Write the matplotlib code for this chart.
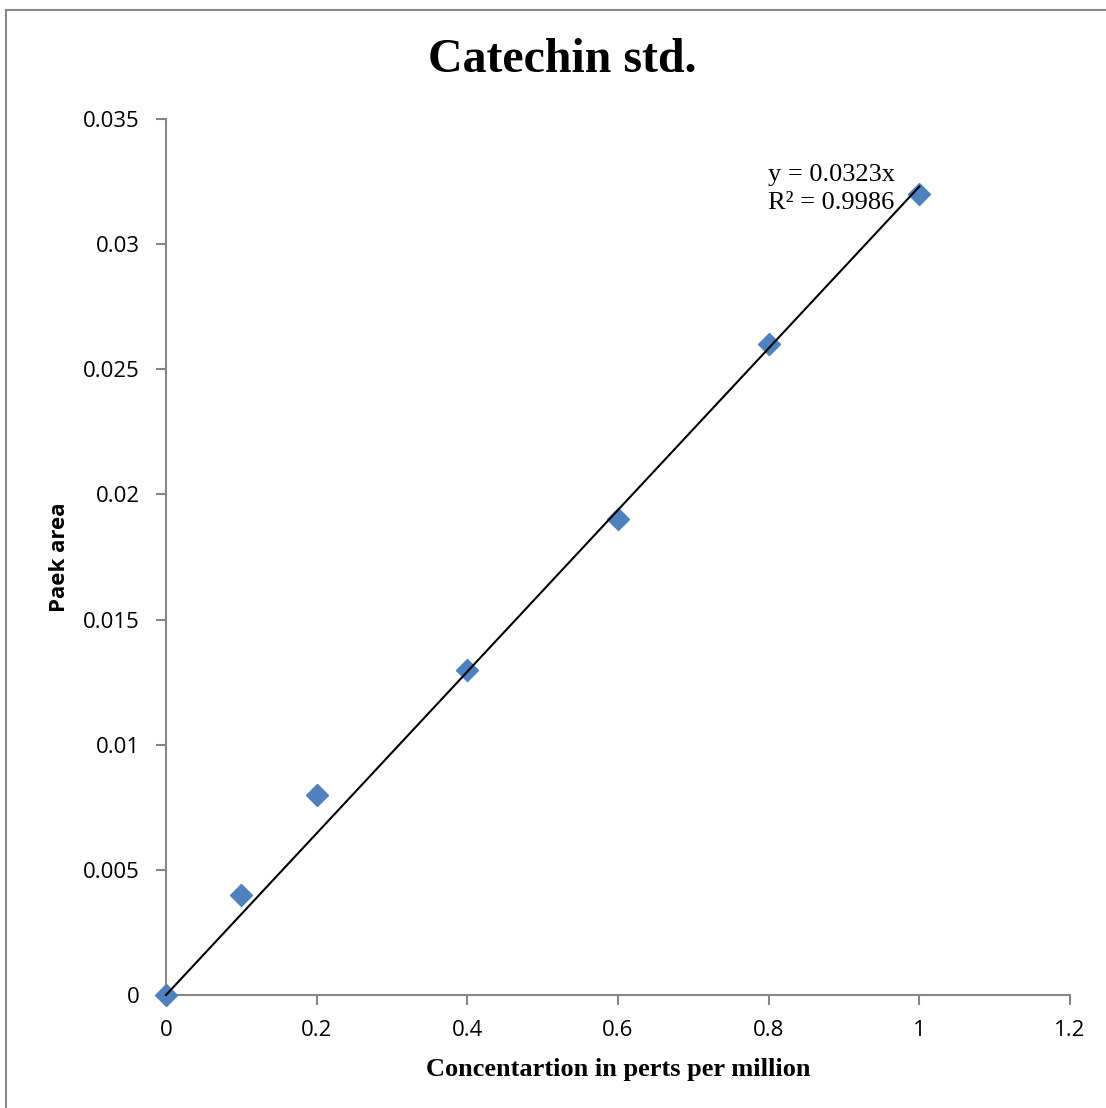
import matplotlib
matplotlib.use("Agg")
import matplotlib.pyplot as plt
import numpy as np
from matplotlib.patches import Rectangle

# data
conc = [0, 0.1, 0.2, 0.4, 0.6, 0.8, 1.0]
area = [0, 0.004, 0.008, 0.013, 0.019, 0.026, 0.032]
slope = 0.0323
fit_x = [0, 1.0]
xticks = [0, 0.2, 0.4, 0.6, 0.8, 1, 1.2]
xtick_labels = ["0", "0.2", "0.4", "0.6", "0.8", "1", "1.2"]
yticks = [0, 0.005, 0.01, 0.015, 0.02, 0.025, 0.03, 0.035]
ytick_labels = ["0", "0.005", "0.01", "0.015", "0.02", "0.025", "0.03", "0.035"]

GRAY = "#868686"
BLUE = "#4F81BD"
SANS = ["Open Sans", "DejaVu Sans"]
SERIF = ["Liberation Serif", "DejaVu Serif"]

fig = plt.figure(figsize=(11.06, 11.08), dpi=100)
# outer chart frame
fig.patches.append(Rectangle((6 / 1106, -0.05), 1.2, 1 - 10 / 1108 + 0.05,
                             transform=fig.transFigure, fill=False,
                             edgecolor=GRAY, lw=1.5))

ax = fig.add_axes([166 / 1106, 1 - 995 / 1108, (1070 - 166) / 1106, (995 - 119) / 1108])
ax.set_xlim(0, 1.2)
ax.set_ylim(0, 0.035)

ax.plot(fit_x, [slope * v for v in fit_x], color="black", lw=1.5, zorder=4,
        clip_on=False)
ax.plot(conc, area, linestyle="none", marker="D", ms=11.5, color=BLUE, zorder=3,
        clip_on=False)

for s in ["top", "right"]:
    ax.spines[s].set_visible(False)
for s in ["left", "bottom"]:
    ax.spines[s].set_color(GRAY)
    ax.spines[s].set_linewidth(1.5)

ax.set_xticks(xticks)
ax.set_xticklabels(xtick_labels, family=SANS, fontsize=16)
ax.set_yticks(yticks)
ax.set_yticklabels(ytick_labels, family=SANS, fontsize=16)
ax.tick_params(axis="both", colors=GRAY, length=7, width=1.5, labelcolor="black")
ax.tick_params(axis="x", pad=11)
ax.tick_params(axis="y", pad=12)

ax.set_xlabel("Concentartion in perts per million", family=SERIF,
              fontweight="bold", fontsize=19, labelpad=12)
ax.set_ylabel("Paek area", family=SANS, fontweight="bold", fontsize=16, labelpad=9)

fig.text(0.508, 1 - 60 / 1108, "Catechin std.", family=SERIF, fontweight="bold",
         fontsize=34.5, ha="center", va="center")

ax.text(0.799, 0.0322, "y = 0.0323x\nR² = 0.9986", family=SERIF, fontsize=19,
        ha="left", va="center", linespacing=1.35)

fig.savefig("out.png", dpi=100)
